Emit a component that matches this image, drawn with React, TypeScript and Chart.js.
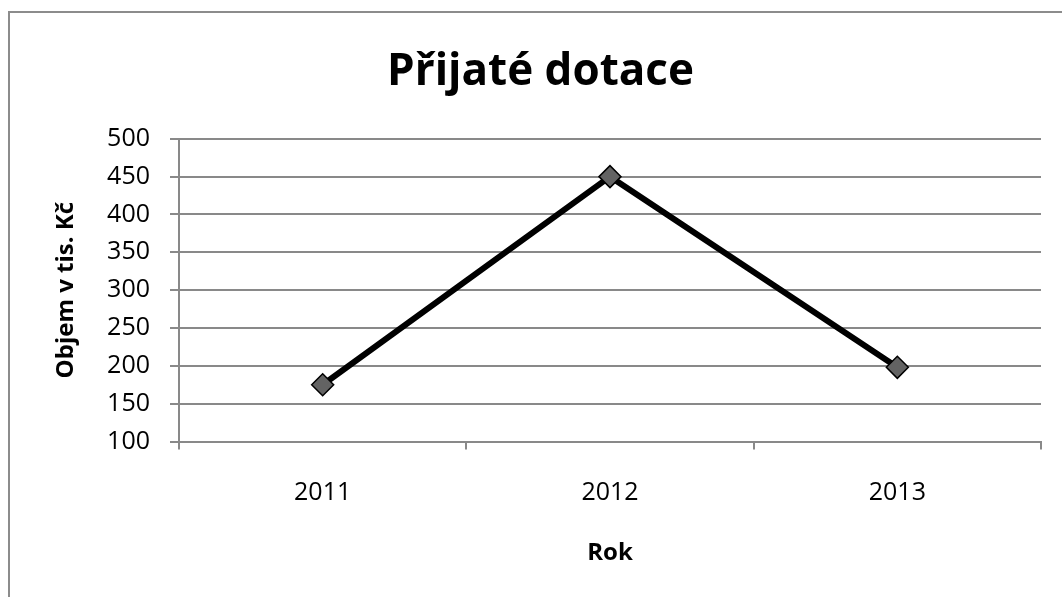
import React, { useEffect, useRef } from 'react';
import { Chart, registerables } from 'chart.js';

Chart.register(...registerables);

const categories = ['2011', '2012', '2013'];
const subsidyValues = [175, 450, 198];
const yMin = 100;
const yMax = 500;
const yStep = 50;
const chartTitle = 'Přijaté dotace';
const yAxisTitle = 'Objem v tis. Kč';
const xAxisTitle = 'Rok';

const FONT = '"Open Sans", Lato, sans-serif';
const GRID = '#898989';

export default function App() {
  const ref = useRef<HTMLCanvasElement>(null);

  useEffect(() => {
    const chart = new Chart(ref.current!, {
      type: 'line',
      data: {
        labels: categories,
        datasets: [
          {
            data: subsidyValues,
            borderColor: '#000000',
            borderWidth: 6,
            tension: 0,
            fill: false,
            pointStyle: 'rectRot',
            pointRadius: 11,
            pointBackgroundColor: '#636363',
            pointBorderColor: '#000000',
            pointBorderWidth: 1.5,
          },
        ],
      },
      options: {
        animation: false,
        responsive: false,
        maintainAspectRatio: false,
        devicePixelRatio: 1,
        layout: { padding: { left: 40, right: 21, top: 0, bottom: 0 } },
        plugins: {
          legend: { display: false },
          tooltip: { enabled: false },
          title: {
            display: true,
            text: chartTitle,
            color: '#000000',
            font: { family: FONT, size: 44, weight: 'bold', lineHeight: 1.2 },
            padding: { top: 46, bottom: 40 },
          },
        },
        scales: {
          x: {
            type: 'category',
            offset: true,
            grid: {
              offset: true,
              drawOnChartArea: false,
              drawTicks: true,
              tickLength: 8,
              color: GRID,
              lineWidth: 2,
            },
            border: { display: true, color: GRID, width: 2 },
            ticks: {
              color: '#000000',
              font: { family: FONT, size: 25, lineHeight: 1.2 },
              padding: 28,
            },
            title: {
              display: true,
              text: xAxisTitle,
              color: '#000000',
              font: { family: FONT, size: 24, weight: 'bold', lineHeight: 1.2 },
              padding: { top: 0, bottom: 29 },
            },
            afterFit: (s: any) => {
              s.height = 155.5;
            },
          },
          y: {
            min: yMin,
            max: yMax,
            ticks: {
              stepSize: yStep,
              color: '#000000',
              font: { family: FONT, size: 25, lineHeight: 1.2 },
              padding: 20,
            },
            grid: { color: GRID, lineWidth: 2, tickLength: 9 },
            border: { display: true, color: GRID, width: 2 },
            title: {
              display: true,
              text: yAxisTitle,
              color: '#000000',
              font: { family: FONT, size: 24, weight: 'bold', lineHeight: 1.2 },
              padding: { top: 12, bottom: 0 },
            },
            afterFit: (s: any) => {
              s.width = 139;
            },
          },
        },
      },
    });
    return () => chart.destroy();
  }, []);

  return (
    <div
      style={{
        position: 'fixed',
        left: 0,
        top: 0,
        width: 1062,
        height: 597,
        overflow: 'hidden',
        background: '#ffffff',
      }}
    >
      <div
        style={{
          position: 'absolute',
          left: 8,
          top: 11,
          width: 1100,
          height: 640,
          borderLeft: '2px solid #8c8c8c',
          borderTop: '2px solid #8c8c8c',
          boxSizing: 'border-box',
        }}
      />
      <canvas
        ref={ref}
        width={1062}
        height={597}
        style={{ position: 'absolute', left: 0, top: 0, width: 1062, height: 597 }}
      />
    </div>
  );
}
